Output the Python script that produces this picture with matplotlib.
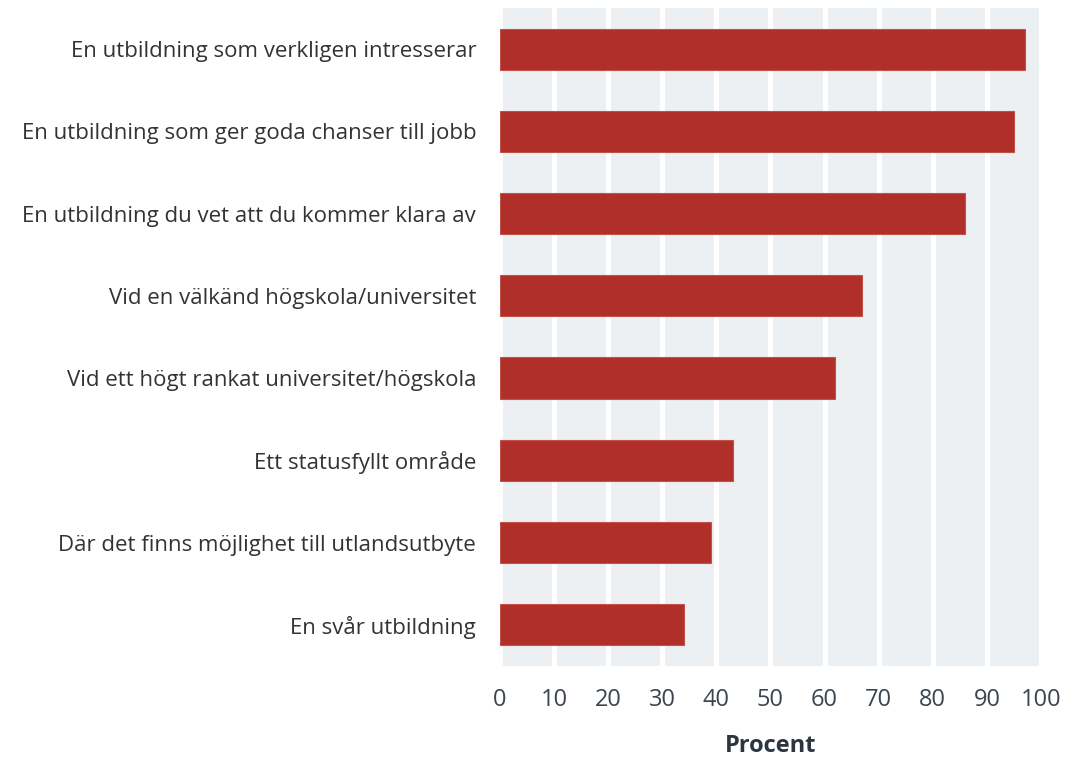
import numpy as np
import matplotlib.pyplot as plt

labels = ["En utbildning som verkligen intresserar",
          "En utbildning som ger goda chanser till jobb",
          "En utbildning du vet att du kommer klara av",
          "Vid en välkänd högskola/universitet",
          "Vid ett högt rankat universitet/högskola",
          "Ett statusfyllt område",
          "Där det finns möjlighet till utlandsutbyte",
          "En svår utbildning"]
values = [97, 95, 86, 67, 62, 43, 39, 34]
xticks = [0, 10, 20, 30, 40, 50, 60, 70, 80, 90, 100]

plt.rcParams['font.family'] = ['Open Sans', 'DejaVu Sans']

fig = plt.figure(figsize=(10.89, 7.61), dpi=100)
ax = fig.add_axes([0.459, 0.125, 0.497, 0.8645])

y = np.arange(len(values))
ax.barh(y, values, height=0.5, color='#b02f29', edgecolor='#c4504a', linewidth=0.8, zorder=3)

ax.set_facecolor('#edf0f3')
ax.set_xlim(0, 100)
ax.set_ylim(len(values) - 0.5, -0.5)
ax.set_xticks(xticks)
ax.set_yticks(y)
ax.set_yticklabels(labels)
ax.grid(axis='x', color='white', linewidth=3.6, zorder=1)
ax.set_axisbelow(True)
for s in ax.spines.values():
    s.set_visible(False)
ax.tick_params(axis='both', length=0, labelsize=16, colors='#333333')
ax.tick_params(axis='x', pad=16, labelcolor='#3a4550', labelsize=17)
ax.tick_params(axis='y', pad=17)
ax.set_xlabel("Procent", fontsize=17, fontweight='bold', color='#2b3640', labelpad=16)

fig.savefig('out.png', dpi=100)
